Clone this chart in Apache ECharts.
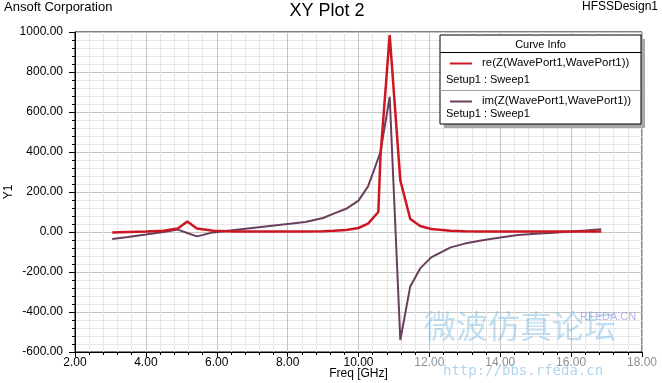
<!DOCTYPE html>
<html>
<head>
<meta charset="utf-8">
<script src="https://cdn.jsdelivr.net/npm/echarts@6/dist/echarts.min.js"></script>
<style>
html,body{margin:0;padding:0;background:#fff;}
#chart{width:662px;height:383px;}
</style>
</head>
<body>
<div id="chart"></div>
<script>
// Frequency samples (GHz)
var freq = [3.05, 3.5, 4.0, 4.5, 4.9, 5.17, 5.44, 5.9, 6.5, 7.0, 7.5, 8.0, 8.5, 9.0, 9.3, 9.65, 10.0, 10.27, 10.56, 10.62, 10.88, 11.18, 11.46, 11.74, 12.05, 12.6, 13.0, 13.5, 14.0, 14.5, 15.0, 15.5, 16.0, 16.4, 16.85];
// re(Z(WavePort1,WavePort1))
var reZ = [-3, 0, 2, 6, 18, 52, 18, 6, 3, 2, 2, 2, 3, 4, 6, 10, 20, 42, 100, 380, 985, 258, 65, 30, 15, 6, 4, 3, 2, 2, 2, 2, 2, 2, 3];
// im(Z(WavePort1,WavePort1))
var imZ = [-35, -25, -13, 0, 12, -5, -22, -2, 10, 20, 30, 40, 50, 70, 92, 116, 157, 228, 370, 400, 676, -540, -272, -182, -127, -77, -58, -41, -28, -15, -9, -4, 2, 7, 14];

var seriesNames = ['re(Z(WavePort1,WavePort1))', 'im(Z(WavePort1,WavePort1))'];
var setupLabel = 'Setup1 : Sweep1';
var xTicks = {min: 2, max: 18, step: 2};
var yTicks = {min: -600, max: 1000, step: 200};

var RED = '#cc1722';
var PURPLE = '#6a3f5e';
var FONT = '"Liberation Sans", Arial, sans-serif';

var chart = echarts.init(document.getElementById('chart'), null, {renderer: 'canvas'});

function pairs(ys) { return freq.map(function (f, i) { return [f, ys[i]]; }); }

var LX = 440, LY = 35, LW = 201, LH = 89;

var option = {
  backgroundColor: '#fff',
  animation: false,
  textStyle: {fontFamily: FONT},
  grid: {left: 75, right: 20, top: 32, bottom: 31, containLabel: false, outerBoundsMode: 'none',
         show: true, borderColor: '#000', borderWidth: 1, backgroundColor: 'transparent'},
  xAxis: {
    type: 'value', min: xTicks.min, max: xTicks.max, interval: xTicks.step,
    name: 'Freq [GHz]', nameLocation: 'middle', nameGap: 16, nameMoveOverlap: false,
    nameTextStyle: {color: '#000', fontSize: 12, fontFamily: FONT},
    axisLine: {onZero: false, lineStyle: {color: '#000', width: 1}},
    axisTick: {show: true, length: 5, lineStyle: {color: '#000'}},
    minorTick: {show: true, splitNumber: 5, length: 3, lineStyle: {color: '#000'}},
    splitLine: {show: true, lineStyle: {color: '#c4c4c4', width: 1}},
    minorSplitLine: {show: true, lineStyle: {color: '#e6e6e6', width: 1}},
    axisLabel: {margin: 5, fontSize: 12, fontFamily: FONT,
      color: function (v) { return v >= 12 ? '#8a8f94' : '#000'; },
      formatter: function (v) { return v.toFixed(2); }}
  },
  yAxis: {
    type: 'value', min: yTicks.min, max: yTicks.max, interval: yTicks.step,
    name: 'Y1', nameLocation: 'middle', nameGap: 60, nameRotate: 90, nameMoveOverlap: false,
    nameTextStyle: {color: '#000', fontSize: 12, fontFamily: FONT},
    axisLine: {onZero: false, lineStyle: {color: '#000', width: 1}},
    axisTick: {show: true, length: 6, lineStyle: {color: '#000'}},
    minorTick: {show: true, splitNumber: 5, length: 3, lineStyle: {color: '#000'}},
    splitLine: {show: true, lineStyle: {color: '#c4c4c4', width: 1}},
    minorSplitLine: {show: true, lineStyle: {color: '#e6e6e6', width: 1}},
    axisLabel: {margin: 12, fontSize: 12, color: '#000', fontFamily: FONT,
      formatter: function (v) { return v.toFixed(2); }}
  },
  series: [
    {name: seriesNames[0], type: 'line', data: pairs(reZ), showSymbol: false, symbol: 'none', smooth: false,
     lineStyle: {color: RED, width: 2.5}, itemStyle: {color: RED}, z: 3},
    {name: seriesNames[1], type: 'line', data: pairs(imZ), showSymbol: false, symbol: 'none', smooth: false,
     lineStyle: {color: PURPLE, width: 2}, itemStyle: {color: PURPLE}, z: 2}
  ],
  graphic: [
    {type: 'text', left: 4, top: 1, style: {text: 'Ansoft Corporation', font: '13px ' + FONT, fill: '#000'}},
    {type: 'text', right: 4, top: 1, style: {text: 'HFSSDesign1', font: '12px ' + FONT, fill: '#000'}},
    {type: 'text', x: 327, y: 2, style: {text: 'XY Plot 2', font: '18px ' + FONT, fill: '#000', textAlign: 'center'}},
    // watermark
    {type: 'text', x: 424, y: 310, z: 1, style: {text: '微波仿真论坛', font: '32px "Noto Sans CJK SC"', fill: 'rgba(120,185,225,0.45)'}},
    {type: 'text', x: 580, y: 311, z: 1, style: {text: 'RFEDA.CN', font: '11px ' + FONT, fill: 'rgba(150,150,220,0.7)'}},
    {type: 'text', x: 443, y: 364, z: 1, style: {text: 'http://bbs.rfeda.cn', font: '14px "DejaVu Sans Mono"', fill: 'rgba(120,185,225,0.6)'}},
    // legend box
    {type: 'rect', z: 10, shape: {x: LX + 4, y: LY + 4, width: LW, height: LH}, style: {fill: '#a8a8a8'}},
    {type: 'rect', z: 11, shape: {x: LX, y: LY, width: LW, height: LH}, style: {fill: '#fff', stroke: '#000', lineWidth: 1}},
    {type: 'text', z: 12, x: LX + LW / 2, y: LY + 4, style: {text: 'Curve Info', font: '11px ' + FONT, fill: '#000', textAlign: 'center'}},
    {type: 'line', z: 12, shape: {x1: LX, y1: 52.5, x2: LX + LW, y2: 52.5}, style: {stroke: '#000', lineWidth: 1}},
    {type: 'line', z: 12, shape: {x1: 450, y1: 63.5, x2: 472, y2: 63.5}, style: {stroke: RED, lineWidth: 2}},
    {type: 'text', z: 12, x: 482, y: 57, style: {text: seriesNames[0], font: '11.4px ' + FONT, fill: '#000'}},
    {type: 'text', z: 12, x: 446, y: 74, style: {text: setupLabel, font: '11px ' + FONT, fill: '#000'}},
    {type: 'line', z: 12, shape: {x1: LX, y1: 90.5, x2: LX + LW, y2: 90.5}, style: {stroke: '#a0a0a0', lineWidth: 1}},
    {type: 'line', z: 12, shape: {x1: 450, y1: 101.5, x2: 472, y2: 101.5}, style: {stroke: PURPLE, lineWidth: 2}},
    {type: 'text', z: 12, x: 482, y: 95, style: {text: seriesNames[1], font: '11.4px ' + FONT, fill: '#000'}},
    {type: 'text', z: 12, x: 446, y: 108, style: {text: setupLabel, font: '11px ' + FONT, fill: '#000'}}
  ]
};
chart.setOption(option);
</script>
</body>
</html>
